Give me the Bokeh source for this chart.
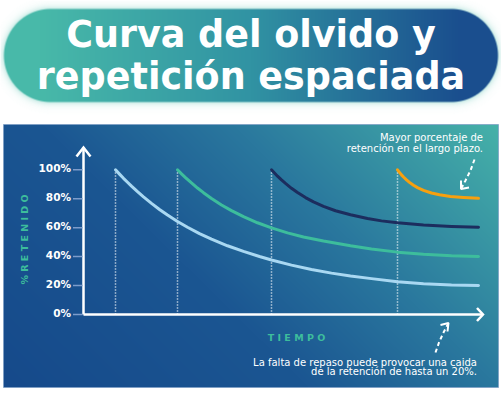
import numpy as np
from bokeh.plotting import figure
from bokeh.models import Range1d
from bokeh.embed import file_html
from bokeh.resources import INLINE
from bokeh.core.properties import value

# ---------------- data ----------------
y_ticks = [0, 20, 40, 60, 80, 100]
y_tick_labels = ["0%", "20%", "40%", "60%", "80%", "100%"]
review_times = [8, 23.5, 47, 78.5]          # each review restarts a curve at 100%

t_light = [8, 9, 10, 11, 12, 13.5, 15, 17, 19, 21, 23.5, 26, 29, 32, 36, 40, 44, 47,
           52, 57, 62, 66.75, 72, 78.5, 85, 92, 98.75]
r_light = [100, 97, 94.1, 91.4, 88.7, 84.9, 81.3, 76.8, 72.6, 68.7, 64.3, 60.3, 55.9, 52.1,
           47.5, 43.6, 40.1, 37.7, 34.1, 31.1, 28.6, 26.6, 24.8, 22.7, 21.3, 20.4, 20]

t_teal = [23.5, 24.5, 25.5, 27, 28.5, 30, 32, 34.5, 37, 40, 43.5, 47, 51, 55, 60, 66.75,
          72, 78.5, 85, 92, 98.75]
r_teal = [100, 97.2, 94.6, 90.9, 87.4, 84.2, 80.2, 75.7, 71.8, 67.6, 63.4, 59.9, 56.4, 53.6,
          50.8, 47.5, 45.3, 43.1, 41.6, 40.6, 40.1]

t_navy = [47, 47.75, 48.5, 49.5, 50.5, 52, 53.5, 55.5, 57.5, 60, 63, 66.75, 71, 74.5, 78.5,
          85, 92, 98.75]
r_navy = [100, 97.8, 95.6, 93, 90.6, 87.2, 84.3, 80.8, 77.8, 74.7, 71.7, 68.9, 66.3, 64.7,
          63.4, 61.9, 60.9, 60.3]

t_orange = [78.5, 79, 79.5, 80, 80.75, 81.5, 82.5, 83.5, 85, 87, 89, 91.75, 95, 98.75]
r_orange = [100, 98.2, 96.5, 95, 93, 91.3, 89.3, 87.7, 85.8, 84, 82.7, 81.6, 80.9, 80.3]

curve_colors = ["#a9d8f2", "#3dbd9c", "#1c2d5e", "#f7a00f"]

title_lines = ["Curva del olvido y", "repetición espaciada"]
y_title = "% R E T E N I D O"
x_title = "T I E M P O"
note_top = ["Mayor porcentaje de", "retención en el largo plazo."]
note_bottom = ["La falta de repaso puede provocar una caida", "de la retención de hasta un 20%."]

# ---------------- layout helpers (pixel -> data) ----------------
W, H = 501, 401
X0, Y0, SX, SY = 83.0, 314.0, 4.0, 1.447


def X(px):
    return (px - X0) / SX


def Y(py):
    return (Y0 - py) / SY


p = figure(width=W, height=H, output_backend="svg", toolbar_location=None,
           x_range=Range1d(X(0), X(W)), y_range=Range1d(Y(H), Y(0)),
           x_axis_location=None, y_axis_location=None, min_border=0)
p.grid.visible = False
p.outline_line_color = None
p.background_fill_color = "white"
p.border_fill_color = "white"


def hex2rgb(h):
    h = h.lstrip("#")
    return [int(h[i:i + 2], 16) for i in (0, 2, 4)]


def ramp(s, stops, cols):
    rgb = [hex2rgb(c) for c in cols]
    return [np.interp(s, stops, [c[k] for c in rgb]) for k in range(3)]


def to_img(r, g, b, a):
    hh, ww = r.shape
    img = np.empty((hh, ww), dtype=np.uint32)
    v = img.view(dtype=np.uint8).reshape((hh, ww, 4))
    v[..., 0] = np.clip(r, 0, 255).astype(np.uint8)
    v[..., 1] = np.clip(g, 0, 255).astype(np.uint8)
    v[..., 2] = np.clip(b, 0, 255).astype(np.uint8)
    v[..., 3] = np.clip(a, 0, 255).astype(np.uint8)
    return img


# ---------------- dark panel with diagonal gradient ----------------
pl, pr, pt, pb = 3, 498, 124, 387
pw, ph = pr - pl, pb - pt
xs = np.arange(pw) + 0.5
ys = pb - (np.arange(ph) + 0.5)          # row 0 = bottom
XX, YY = np.meshgrid(xs, ys)
s = 0.65 * (XX / pw) + 0.35 * ((pb - YY) / ph)
R, G, B = ramp(s, [0, 0.4, 0.65, 1.0], ["#164a8b", "#1b5692", "#2a789e", "#46b2a9"])
A = np.full_like(R, 255)
p.image_rgba(image=[to_img(R, G, B, A)], x=X(pl), y=Y(pb), dw=pw / SX, dh=ph / SY)
p.rect(x=X((pl + pr) / 2), y=Y((pt + pb) / 2), width=pw / SX, height=ph / SY,
       fill_color=None, line_color="#7c9cc4", line_width=1, line_alpha=0.7)

# ---------------- title pill with glow ----------------
iw, ih = W, 116
xs = np.arange(iw) + 0.5
ys = ih - (np.arange(ih) + 0.5)
XX, YY = np.meshgrid(xs, ys)
cy, rad, cx1, cx2 = 55.0, 46.5, 50.0, 451.0
dx = np.clip(XX, cx1, cx2) - XX
d = np.sqrt(dx ** 2 + (YY - cy) ** 2) - rad
a_in = np.clip(0.5 - d, 0, 1)
g_a = np.where(d > 0, 0.65 * np.exp(-np.maximum(d, 0) / 3.0), 0.65)
pc = ramp(XX / iw, [0, 0.08, 0.5, 0.92, 1], ["#48b9a9", "#48b9a9", "#3193a3", "#1a4e8e", "#1a4e8e"])
gc = hex2rgb("#9fdcd2")
out_a = a_in + (1 - a_in) * g_a
out_a_safe = np.maximum(out_a, 1e-6)
chan = [(a_in * pc[k] + (1 - a_in) * g_a * gc[k]) / out_a_safe for k in range(3)]
p.image_rgba(image=[to_img(chan[0], chan[1], chan[2], out_a * 255)], x=X(0), y=Y(ih),
             dw=iw / SX, dh=ih / SY)

for line, mid in zip(title_lines, [33.5, 76]):
    p.text(x=[X(250.5)], y=[Y(mid)], text=[line], text_color="white",
           text_font=value("DejaVu Sans"), text_font_style="bold", text_font_size="36.5px",
           text_align="center", text_baseline="middle")

# ---------------- axes ----------------
axis_top = Y(147)
x_end = X(482.5)
p.segment(x0=[0, 0], y0=[0, 0], x1=[0, x_end], y1=[axis_top, 0],
          line_color="white", line_width=2.5)
# arrow heads
p.line(x=[X(76), 0, X(90)], y=[Y(156), axis_top, Y(156)], line_color="white",
       line_width=2.5, line_join="miter")
p.line(x=[X(476.5), x_end, X(476.5)], y=[Y(307.5), 0, Y(320.5)], line_color="white",
       line_width=2.5, line_join="miter")
# ticks
p.segment(x0=[X(72.5)] * len(y_ticks), y0=y_ticks, x1=[X(82)] * len(y_ticks), y1=y_ticks,
          line_color="#7d9ccb", line_width=1.5)
p.text(x=[X(70.5)] * len(y_ticks), y=[v + 1.2 for v in y_ticks], text=y_tick_labels,
       text_color="white", text_font=value("DejaVu Sans"), text_font_style="bold",
       text_font_size="10.5px", text_align="right", text_baseline="middle")

p.text(x=[X(24)], y=[Y(239)], text=[y_title], angle=np.pi / 2, text_color="#3dbd9c",
       text_font=value("DejaVu Sans"), text_font_style="bold", text_font_size="9.5px",
       text_align="center", text_baseline="middle")
p.text(x=[X(296)], y=[Y(337)], text=[x_title], text_color="#3dbd9c",
       text_font=value("DejaVu Sans"), text_font_style="bold", text_font_size="9.5px",
       text_align="center", text_baseline="middle")

# ---------------- review markers and curves ----------------
p.segment(x0=review_times, y0=[0] * len(review_times), x1=review_times,
          y1=[100] * len(review_times), line_color="white", line_width=1.5,
          line_dash="1 2")

for tt, rr, col in zip([t_light, t_teal, t_navy, t_orange],
                       [r_light, r_teal, r_navy, r_orange], curve_colors):
    p.line(x=tt, y=rr, line_color=col, line_width=3, line_cap="round", line_join="round")

# ---------------- annotations ----------------
for line, mid in zip(note_top, [137.3, 148.3]):
    p.text(x=[X(482.5)], y=[Y(mid)], text=[line], text_color="white",
           text_font=value("DejaVu Sans"), text_font_size="10px",
           text_align="right", text_baseline="middle")
for line, mid in zip(note_bottom, [361.5, 371]):
    p.text(x=[X(476.5)], y=[Y(mid)], text=[line], text_color="white",
           text_font=value("DejaVu Sans"), text_font_size="10px",
           text_align="right", text_baseline="middle")

# dashed pointer arrows
p.line(x=[X(474), X(470), X(465), X(461)], y=[Y(159), Y(170), Y(180), Y(187.5)],
       line_color="white", line_width=2, line_dash="4 3")
p.line(x=[X(460.5), X(460.5), X(468.5)], y=[Y(180), Y(188.5), Y(187)],
       line_color="white", line_width=2)
p.line(x=[X(435), X(438.5), X(443), X(447.5)], y=[Y(352), Y(342), Y(332), Y(323.5)],
       line_color="white", line_width=2, line_dash="4 3")
p.line(x=[X(440), X(448), X(447)], y=[Y(324.5), Y(322.5), Y(331)],
       line_color="white", line_width=2)

open("out.html", "w").write(file_html(p, INLINE))
